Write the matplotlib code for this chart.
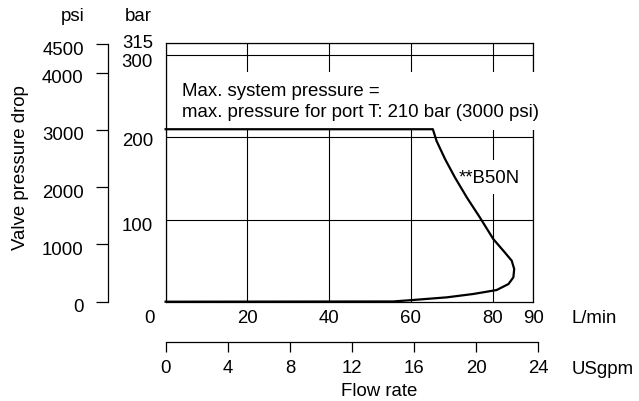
import matplotlib
matplotlib.use("Agg")
import matplotlib.pyplot as plt
from matplotlib.transforms import ScaledTranslation

plt.rcParams['font.family'] = ['Liberation Sans', 'DejaVu Sans']

# curve (L/min, bar)
flow_lpm = [0, 55.7, 60.6, 68.8, 75.3, 81.0, 83.9, 85.1, 85.3, 84.7, 83.0, 80.2,
            76.9, 73.7, 70.8, 68.4, 66.3, 65.4, 0]
pressure_bar = [0, 0.3, 2.1, 5.3, 9.4, 14.2, 21.5, 29.7, 39.8, 49.9, 60, 76.2,
                102.6, 127, 151.3, 173.5, 195.8, 210, 210]

lpm_ticks = [0, 20, 40, 60, 80, 90]
bar_ticks = [100, 200, 300, 315]
psi_ticks = [0, 1000, 2000, 3000, 4000, 4500]
gpm_ticks = [0, 4, 8, 12, 16, 20, 24]

curve_label = "**B50N"
note = "Max. system pressure =\nmax. pressure for port T: 210 bar (3000 psi)"

W, H = 639, 402
fs = 13.4

fig = plt.figure(figsize=(W / 100, H / 100), dpi=100)


def px(x0, y0, x1, y1):
    # pixel box -> figure fraction [l, b, w, h]
    return [x0 / W, 1 - y1 / H, (x1 - x0) / W, (y1 - y0) / H]


def shift(lbl, dx, dy):
    lbl.set_transform(lbl.get_transform() + ScaledTranslation(dx / 100, dy / 100, fig.dpi_scale_trans))


# main chart
ax = fig.add_axes(px(165.6, 44, 533.4, 302.7))
ax.set_xlim(0, 90)
ax.set_ylim(0, 315)
ax.set_xticks(lpm_ticks)
ax.set_yticks(bar_ticks)
ax.set_xticklabels([str(t) for t in lpm_ticks])
ax.set_yticklabels([str(t) for t in bar_ticks])
ax.tick_params(length=0, labelsize=fs)
ax.tick_params(axis='x', pad=5)
ax.tick_params(axis='y', pad=9)
ax.grid(True, color='black', linewidth=0.8)
for s in ax.spines.values():
    s.set_linewidth(0.9)

shift(ax.get_xticklabels()[0], -16.5, 0)
for lbl, dy in zip(ax.get_yticklabels(), [-4, -1, -4, 3]):
    shift(lbl, 0, dy)

ax.plot(flow_lpm, pressure_bar, color='black', linewidth=1.6, zorder=6,
        solid_joinstyle='round', clip_on=False)

ax.text(4.1, 244.5, note, fontsize=fs, va='center', ha='left', linespacing=1.25,
        zorder=5, clip_on=False,
        bbox=dict(boxstyle='square,pad=0.55', facecolor='white', edgecolor='none'))
ax.text(71.6, 151.5, curve_label, fontsize=fs, va='center', ha='left', zorder=5,
        bbox=dict(boxstyle='square,pad=0.45', facecolor='white', edgecolor='none'))

# psi scale on the far left
ax_psi = fig.add_axes(px(108.3, 44, 110, 302.7))
ax_psi.set_ylim(0, 4520)
ax_psi.set_yticks(psi_ticks)
ax_psi.set_yticklabels([str(t) for t in psi_ticks])
ax_psi.set_xticks([])
for name in ['top', 'right', 'bottom']:
    ax_psi.spines[name].set_visible(False)
ax_psi.spines['left'].set_bounds(0, 4500)
ax_psi.spines['left'].set_linewidth(0.9)
ax_psi.patch.set_visible(False)
ax_psi.tick_params(axis='y', length=8.6, width=0.9, pad=9, labelsize=fs)
for lbl in ax_psi.get_yticklabels():
    shift(lbl, 0, -3)

# USgpm scale under the chart
ax_gpm = fig.add_axes(px(165.7, 343.2, 538.3, 343.3))
ax_gpm.set_xlim(0, 24)
ax_gpm.set_xticks(gpm_ticks)
ax_gpm.set_xticklabels([str(t) for t in gpm_ticks])
ax_gpm.set_yticks([])
for name in ['top', 'right', 'left']:
    ax_gpm.spines[name].set_visible(False)
ax_gpm.spines['bottom'].set_linewidth(0.9)
ax_gpm.patch.set_visible(False)
ax_gpm.tick_params(axis='x', length=7.2, width=0.9, pad=5, labelsize=fs)

# unit labels
fig.text(73 / W, 1 - 16.5 / H, "psi", fontsize=fs, ha='center', va='center')
fig.text(138.5 / W, 1 - 16.5 / H, "bar", fontsize=fs, ha='center', va='center')
fig.text(20.5 / W, 1 - 168 / H, "Valve pressure drop", fontsize=fs, rotation=90,
         ha='center', va='center')
fig.text(571.7 / W, 1 - 318.3 / H, "L/min", fontsize=fs, ha='left', va='center')
fig.text(571.7 / W, 1 - 370 / H, "USgpm", fontsize=fs, ha='left', va='center')
fig.text(379 / W, 1 - 391.7 / H, "Flow rate", fontsize=fs, ha='center', va='center')

fig.savefig("out.png", dpi=100)
